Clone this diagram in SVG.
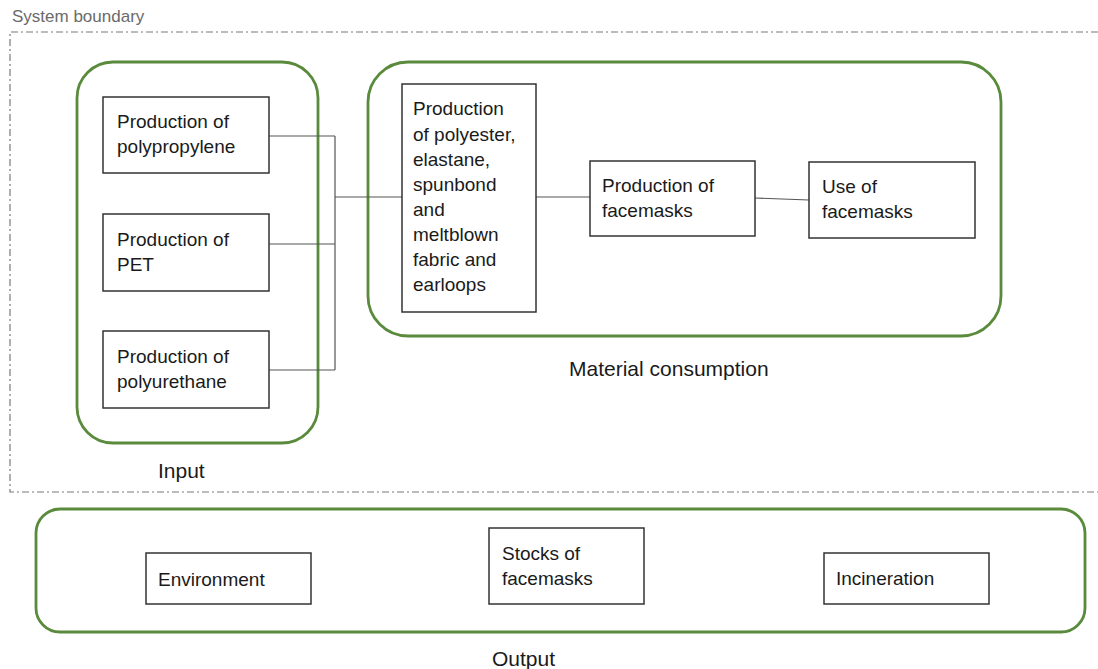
<svg xmlns="http://www.w3.org/2000/svg" width="1098" height="669" viewBox="0 0 1098 669">
  <style>
    .boundary { fill: none; stroke: #7a7a7a; stroke-width: 1.2; stroke-dasharray: 7 3 2 3; }
    .group { fill: none; stroke: #5a8a3c; stroke-width: 2.8; }
    .box { fill: #ffffff; stroke: #333333; stroke-width: 1.5; }
    .link { fill: none; stroke: #555555; stroke-width: 1.2; }
    .t { font-family: "Liberation Sans", Arial, sans-serif; font-size: 19px; fill: #1a1a1a; }
    .label { font-family: "Liberation Sans", Arial, sans-serif; font-size: 21px; fill: #1a1a1a; }
    .sys { font-family: "Liberation Sans", Arial, sans-serif; font-size: 17px; fill: #6a6a6a; }
  </style>
  <rect width="1098" height="669" fill="#ffffff"/>

  <!-- system boundary (open on the right edge) -->
  <g id="system-boundary">
    <text class="sys" x="12" y="22">System boundary</text>
    <path class="boundary" d="M1098,32 H10 V492 H1098"/>
  </g>

  <!-- grouping frames -->
  <g id="input-group">
    <rect class="group" x="77" y="62" width="241" height="381" rx="36" ry="36"/>
    <text class="label" x="158" y="478">Input</text>
  </g>
  <g id="material-group">
    <rect class="group" x="368" y="62" width="633" height="274" rx="40" ry="40"/>
    <text class="label" x="569" y="376">Material consumption</text>
  </g>
  <g id="output-group">
    <rect class="group" x="36" y="509" width="1049" height="123" rx="24" ry="24"/>
    <text class="label" x="492" y="666">Output</text>
  </g>

  <!-- connectors -->
  <g id="connectors">
    <path class="link" d="M269,136 H335 M269,244 H335 M269,370 H335 M335,136 V370 M335,197 H402"/>
    <path class="link" d="M536,197 H590"/>
    <path class="link" d="M755,198 L809,200"/>
  </g>

  <!-- process nodes -->
  <g id="node-polypropylene">
    <rect class="box" x="103" y="97" width="166" height="76"/>
    <text class="t" x="117" y="128">Production of</text>
    <text class="t" x="117" y="153">polypropylene</text>
  </g>
  <g id="node-pet">
    <rect class="box" x="103" y="214" width="166" height="77"/>
    <text class="t" x="117" y="246">Production of</text>
    <text class="t" x="117" y="271">PET</text>
  </g>
  <g id="node-polyurethane">
    <rect class="box" x="103" y="331" width="166" height="77"/>
    <text class="t" x="117" y="363">Production of</text>
    <text class="t" x="117" y="388">polyurethane</text>
  </g>
  <g id="node-fabrics">
    <rect class="box" x="402" y="84" width="134" height="228"/>
    <text class="t" x="413" y="115">Production</text>
    <text class="t" x="413" y="141">of polyester,</text>
    <text class="t" x="413" y="166">elastane,</text>
    <text class="t" x="413" y="191">spunbond</text>
    <text class="t" x="413" y="216">and</text>
    <text class="t" x="413" y="241">meltblown</text>
    <text class="t" x="413" y="266">fabric and</text>
    <text class="t" x="413" y="291">earloops</text>
  </g>
  <g id="node-facemask-production">
    <rect class="box" x="590" y="161" width="165" height="75"/>
    <text class="t" x="602" y="192">Production of</text>
    <text class="t" x="602" y="217">facemasks</text>
  </g>
  <g id="node-facemask-use">
    <rect class="box" x="809" y="162" width="166" height="76"/>
    <text class="t" x="822" y="193">Use of</text>
    <text class="t" x="822" y="218">facemasks</text>
  </g>
  <g id="node-environment">
    <rect class="box" x="146" y="553" width="165" height="51"/>
    <text class="t" x="158" y="586">Environment</text>
  </g>
  <g id="node-stocks">
    <rect class="box" x="489" y="528" width="155" height="76"/>
    <text class="t" x="502" y="560">Stocks of</text>
    <text class="t" x="502" y="585">facemasks</text>
  </g>
  <g id="node-incineration">
    <rect class="box" x="824" y="553" width="165" height="51"/>
    <text class="t" x="836" y="585">Incineration</text>
  </g>
</svg>
